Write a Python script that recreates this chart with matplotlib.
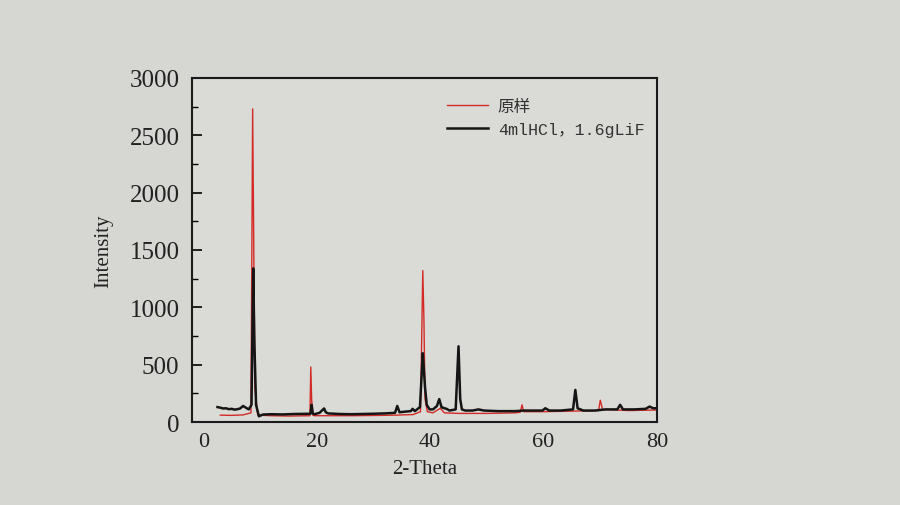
#XRD pattern, original sample vs etched sample
from matplotlib import pyplot as plt
from matplotlib.ticker import MultipleLocator

# 原样 (red)
red_x = [3, 5, 7, 8.4, 8.7, 9.1, 9.6, 12, 15, 18.8, 18.95, 19.1, 19.3, 19.6, 22, 26, 30, 34, 37,
         38.3, 38.7, 38.9, 39.1, 39.5, 40.5, 41.8, 42.5, 45, 50, 55, 55.9, 56.2, 56.5, 60, 65,
         69.7, 70.0, 70.4, 75, 80]
red_y = [60, 58, 62, 80, 2730, 300, 60, 55, 52, 55, 480, 200, 60, 55, 55, 55, 57, 60, 65,
         90, 1320, 900, 200, 90, 80, 120, 80, 75, 75, 80, 85, 150, 90, 90, 95,
         100, 190, 110, 100, 105]

# 4mlHCl, 1.6gLiF (black)
black_x = [2.5, 3, 3.5, 4, 4.5, 5, 5.5, 6, 6.5, 7, 7.5, 8, 8.5, 8.8, 9.0, 9.3, 9.8, 10.5, 12, 14,
           16, 18.9, 19.1, 19.3, 19.6, 20.5, 21.3, 21.6, 22, 24, 26, 28, 30, 32, 33.8, 34.2, 34.6,
           35.5, 36.6, 36.9, 37.3, 38.2, 38.7, 38.9, 39.1, 39.4, 39.9, 40.5, 41.2, 41.6, 42.0,
           42.5, 42.9, 43.4, 44.5, 45.0, 45.3, 45.6, 46.2, 47.5, 48.5, 49.5, 52, 55, 56.5, 58,
           59.8, 60.3, 61, 63, 65.2, 65.6, 66.0, 67, 69, 71, 73.0, 73.5, 74.0, 76, 78, 78.7,
           79.3, 80]
black_y = [130, 125, 118, 120, 112, 115, 108, 112, 118, 140, 125, 110, 150, 1340, 700, 150, 50,
           65, 68, 66, 70, 72, 150, 75, 68, 80, 118, 85, 75, 70, 68, 70, 72, 75, 80, 140, 85,
           90, 95, 115, 95, 130, 600, 450, 300, 150, 110, 110, 140, 200, 130, 120, 115, 100,
           110, 660, 200, 110, 100, 100, 110, 100, 95, 95, 100, 100, 100, 120, 100, 100, 110,
           280, 120, 100, 100, 110, 110, 150, 110, 110, 115, 135, 120, 120]

labels = ['原样', '4mlHCl，1.6gLiF']

serif = ['Liberation Serif', 'Noto Sans CJK SC', 'DejaVu Serif']
mono = ['Liberation Mono', 'Noto Sans CJK SC', 'DejaVu Sans']
bg = '#d6d6d3'

fig = plt.figure(figsize=(9, 5.06), dpi=100, facecolor=bg)
ax = fig.add_axes([0.2133, 0.164, 0.5167, 0.68])
ax.set_facecolor('#dadad7')

ax.plot(red_x, red_y, color='#d42a25', lw=1.0, label=labels[0])
ax.plot(black_x, black_y, color='#151515', lw=1.8, label=labels[1])

ax.set_xlim(-2, 80)
ax.set_ylim(0, 3000)
ax.xaxis.set_major_locator(MultipleLocator(20))
ax.yaxis.set_major_locator(MultipleLocator(500))
ax.yaxis.set_minor_locator(MultipleLocator(250))
ax.tick_params(axis='y', which='major', direction='in', length=7, width=1.2, pad=9)
ax.tick_params(axis='y', which='minor', direction='in', length=4, width=1.0)
ax.tick_params(axis='x', direction='in', length=0, pad=7)
for t in ax.get_yticklabels():
    t.set_family(serif)
    t.set_fontsize(18)
    t.set_color('#222222')
for t in ax.get_xticklabels():
    t.set_family(serif)
    t.set_fontsize(16)
    t.set_color('#222222')
for s in ax.spines.values():
    s.set_linewidth(1.5)
    s.set_color('#1a1a1a')

ax.set_xlabel('2-Theta', family=serif, fontsize=15, color='#222222', labelpad=6)
ax.set_ylabel('Intensity', family=serif, fontsize=15, color='#222222', labelpad=12)

leg = ax.legend(loc='upper left', bbox_to_anchor=(0.548, 0.938), frameon=False,
                prop={'family': mono, 'size': 12}, handlelength=2.45, handletextpad=0.6,
                labelspacing=0.45, borderpad=0, borderaxespad=0)
for t in leg.get_texts():
    t.set_color('#333333')

plt.savefig('out.png', dpi=100, facecolor=bg)
